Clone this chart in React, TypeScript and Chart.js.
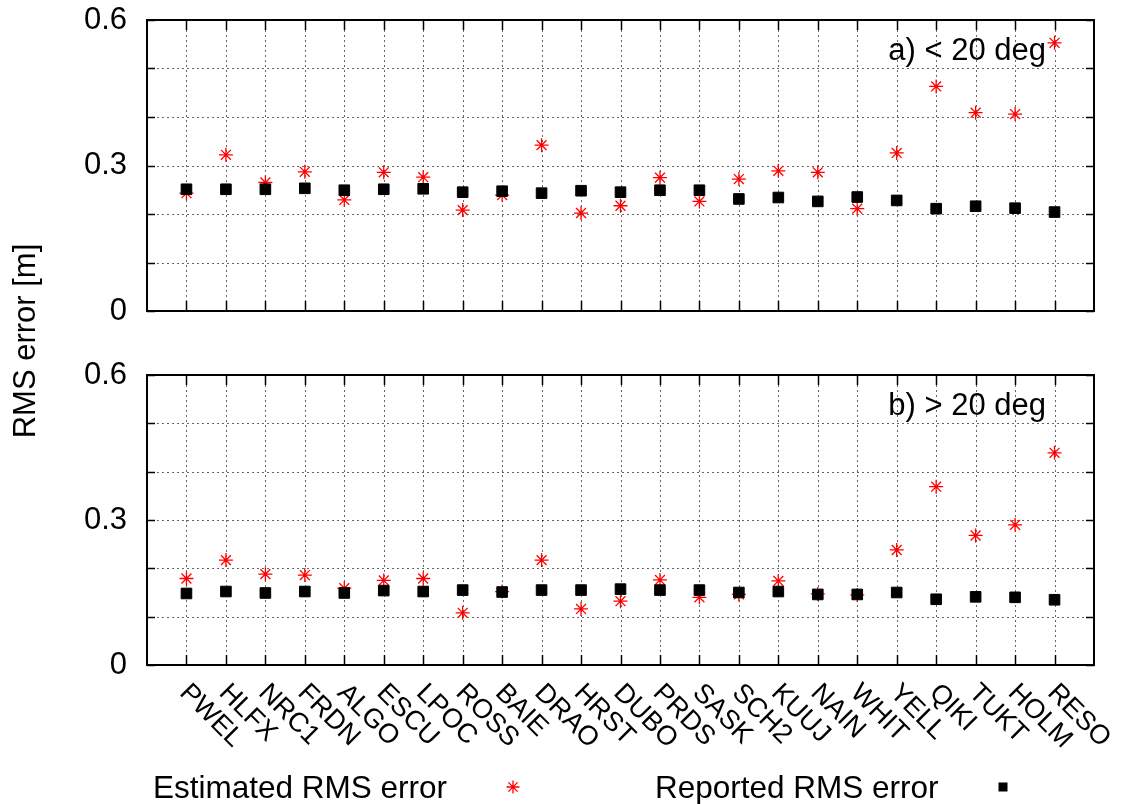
import React, { useEffect, useRef } from 'react';
import { Chart, registerables } from 'chart.js';

Chart.register(...registerables);

// ---------------- data ----------------
const stations = ['PWEL', 'HLFX', 'NRC1', 'FRDN', 'ALGO', 'ESCU', 'LPOC', 'ROSS', 'BAIE', 'DRAO', 'HRST', 'DUBO', 'PRDS', 'SASK', 'SCH2', 'KUUJ', 'NAIN', 'WHIT', 'YELL', 'QIKI', 'TUKT', 'HOLM', 'RESO'];

const estimatedA = [0.243, 0.322, 0.265, 0.287, 0.229, 0.286, 0.276, 0.208, 0.239, 0.342, 0.202, 0.217, 0.275, 0.226, 0.272, 0.289, 0.286, 0.211, 0.326, 0.463, 0.409, 0.406, 0.553];
const reportedA = [0.251, 0.251, 0.251, 0.253, 0.249, 0.251, 0.252, 0.245, 0.247, 0.243, 0.248, 0.245, 0.249, 0.249, 0.231, 0.234, 0.226, 0.235, 0.228, 0.211, 0.216, 0.212, 0.204];

const estimatedB = [0.179, 0.217, 0.188, 0.186, 0.159, 0.175, 0.179, 0.108, 0.152, 0.217, 0.116, 0.132, 0.176, 0.140, 0.146, 0.174, 0.147, 0.145, 0.238, 0.369, 0.268, 0.290, 0.439];
const reportedB = [0.148, 0.152, 0.149, 0.152, 0.149, 0.154, 0.152, 0.155, 0.151, 0.155, 0.155, 0.157, 0.155, 0.155, 0.150, 0.152, 0.146, 0.146, 0.150, 0.136, 0.141, 0.140, 0.135];

const yGridValues = [0, 0.1, 0.2, 0.3, 0.4, 0.5, 0.6];
const yTickLabels = ['0', '0.3', '0.6'];
const yTickLabelValues = [0, 0.3, 0.6];
const panelTitles = ['a) < 20 deg', 'b) > 20 deg'];
const legendLabels = ['Estimated RMS error', 'Reported RMS error'];
const yAxisTitle = 'RMS error [m]';

// ---------------- styling ----------------
const FONT = '"Liberation Sans", Arial, Helvetica, sans-serif';
const RED = 'rgb(255,0,0)';

function drawStar(ctx: CanvasRenderingContext2D, x: number, y: number, r: number) {
  ctx.save();
  ctx.strokeStyle = RED;
  ctx.lineWidth = 1.3;
  ctx.beginPath();
  ctx.moveTo(x - r, y); ctx.lineTo(x + r, y);
  ctx.moveTo(x, y - r); ctx.lineTo(x, y + r);
  const d = r * Math.SQRT1_2;
  ctx.moveTo(x - d, y - d); ctx.lineTo(x + d, y + d);
  ctx.moveTo(x - d, y + d); ctx.lineTo(x + d, y - d);
  ctx.stroke();
  ctx.restore();
}

function makeConfig(idx: number): any {
  const isTop = idx === 0;
  const estimated = isTop ? estimatedA : estimatedB;
  const reported = isTop ? reportedA : reportedB;
  const title = panelTitles[idx];
  const padTop = isTop ? 20 : 375;
  const padBottom = isTop ? 804 - 311 : 804 - 665;

  const decor = {
    id: 'decor' + idx,
    beforeDatasetsDraw(chart: any) {
      const { ctx, chartArea: ca, scales } = chart;
      const xs = scales.x, ys = scales.y;
      ctx.save();
      ctx.strokeStyle = 'rgba(0,0,0,0.6)';
      ctx.lineWidth = 1;
      ctx.setLineDash([2, 3]);
      ctx.beginPath();
      stations.forEach((_, i) => {
        const px = Math.round(xs.getPixelForValue(i)) + 0.5;
        ctx.moveTo(px, ca.top); ctx.lineTo(px, ca.bottom);
      });
      yGridValues.forEach((v) => {
        const py = Math.round(ys.getPixelForValue(v)) + 0.5;
        ctx.moveTo(ca.left, py); ctx.lineTo(ca.right, py);
      });
      ctx.stroke();
      ctx.restore();
    },
    afterDraw(chart: any) {
      const { ctx, chartArea: ca, scales } = chart;
      const xs = scales.x, ys = scales.y;
      ctx.save();
      // inward tick marks
      ctx.strokeStyle = '#000';
      ctx.lineWidth = 1.5;
      ctx.beginPath();
      stations.forEach((_, i) => {
        const px = Math.round(xs.getPixelForValue(i)) + 0.5;
        ctx.moveTo(px, ca.bottom); ctx.lineTo(px, ca.bottom - 10);
        ctx.moveTo(px, ca.top); ctx.lineTo(px, ca.top + 10);
      });
      yGridValues.forEach((v) => {
        const py = Math.round(ys.getPixelForValue(v)) + 0.5;
        ctx.moveTo(ca.left, py); ctx.lineTo(ca.left + 8, py);
        ctx.moveTo(ca.right, py); ctx.lineTo(ca.right - 8, py);
      });
      ctx.stroke();
      // frame
      ctx.lineWidth = 2;
      ctx.strokeRect(ca.left, ca.top, ca.right - ca.left, ca.bottom - ca.top);

      // y tick labels
      ctx.fillStyle = '#000';
      ctx.font = `31px ${FONT}`;
      ctx.textAlign = 'right';
      ctx.textBaseline = 'middle';
      yTickLabelValues.forEach((v, i) => {
        ctx.fillText(yTickLabels[i], ca.left - 20, ys.getPixelForValue(v));
      });

      // panel title
      ctx.textAlign = 'right';
      ctx.textBaseline = 'alphabetic';
      ctx.fillText(title, ca.right - 48, ca.top + 40);

      if (isTop) {
        // y axis title spanning both panels
        ctx.save();
        ctx.font = `31px ${FONT}`;
        ctx.translate(35, 341);
        ctx.rotate(-Math.PI / 2);
        ctx.textAlign = 'center';
        ctx.textBaseline = 'alphabetic';
        ctx.fillText(yAxisTitle, 0, 0);
        ctx.restore();
      } else {
        // rotated station labels
        ctx.font = `27px ${FONT}`;
        ctx.textAlign = 'left';
        ctx.textBaseline = 'alphabetic';
        stations.forEach((s, i) => {
          const px = xs.getPixelForValue(i);
          ctx.save();
          ctx.translate(px - 8, ca.bottom + 29);
          ctx.rotate(Math.PI / 4);
          ctx.fillText(s, 0, 0);
          ctx.restore();
        });
        // legend
        ctx.font = `31.5px ${FONT}`;
        ctx.textAlign = 'left';
        ctx.fillText(legendLabels[0], 153, 798);
        ctx.fillText(legendLabels[1], 655, 798);
        drawStar(ctx, 513, 787, 6.5);
        ctx.fillStyle = '#000';
        ctx.fillRect(1003 - 4.5, 787 - 4.5, 9, 9);
      }
      ctx.restore();
    },
  };

  return {
    type: 'scatter',
    data: {
      datasets: [
        {
          label: legendLabels[1],
          data: reported.map((v, i) => ({ x: i, y: v })),
          pointStyle: 'rect',
          pointRadius: 7.5,
          borderWidth: 1,
          backgroundColor: '#000',
          borderColor: '#000',
          showLine: false,
        },
        {
          label: legendLabels[0],
          data: estimated.map((v, i) => ({ x: i, y: v })),
          pointStyle: 'star',
          pointRadius: 7,
          borderWidth: 1.3,
          backgroundColor: RED,
          borderColor: RED,
          showLine: false,
        },
      ],
    },
    options: {
      responsive: false,
      animation: false,
      events: [],
      layout: { padding: { left: 0, right: 28, top: padTop, bottom: padBottom } },
      plugins: { legend: { display: false }, tooltip: { enabled: false } },
      scales: {
        x: {
          type: 'linear',
          min: -1,
          max: 23,
          grid: { display: false, drawTicks: false },
          border: { display: false },
          ticks: { display: false },
          afterFit: (s: any) => { s.height = 0; },
        },
        y: {
          type: 'linear',
          min: 0,
          max: 0.6,
          grid: { display: false, drawTicks: false },
          border: { display: false },
          ticks: { display: false },
          afterFit: (s: any) => { s.width = 147; },
        },
      },
    },
    plugins: [decor],
  };
}

export default function App() {
  const refA = useRef<HTMLCanvasElement>(null);
  const refB = useRef<HTMLCanvasElement>(null);
  useEffect(() => {
    const a = new Chart(refA.current!, makeConfig(0));
    const b = new Chart(refB.current!, makeConfig(1));
    return () => {
      a.destroy();
      b.destroy();
    };
  }, []);
  return (
    <div style={{ position: 'absolute', left: 0, top: 0, width: 1122, height: 804, background: '#fff' }}>
      <canvas ref={refA} width={1122} height={804} style={{ position: 'absolute', left: 0, top: 0 }} />
      <canvas ref={refB} width={1122} height={804} style={{ position: 'absolute', left: 0, top: 0 }} />
    </div>
  );
}
